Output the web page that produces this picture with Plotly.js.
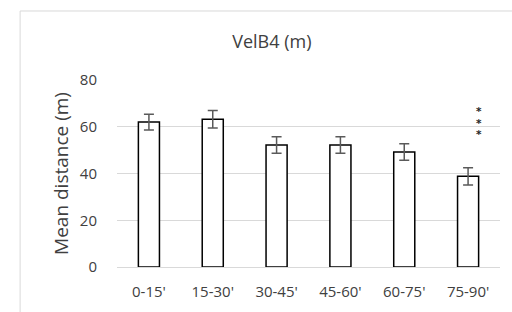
<!DOCTYPE html>
<html><head><meta charset="utf-8">
<script src="https://cdn.plot.ly/plotly-3.0.1.min.js"></script>
<style>html,body{margin:0;padding:0;background:#fff;}#chart{width:512px;height:312px;}</style>
</head><body><div id="chart"></div>
<script>
const categories = ["0-15'", "15-30'", "30-45'", "45-60'", "60-75'", "75-90'"];
const meanDistance = [62, 63.2, 52.2, 52.2, 49.2, 38.8];
const errorSE = [3.4, 3.7, 3.5, 3.5, 3.5, 3.7];
const yTicks = [0, 20, 40, 60, 80];
const sigMark = '<span style="font-size:10.5px"><b>*</b></span>';
const sigLabel = [sigMark, sigMark, sigMark].join('<br>');
const sigCategory = "75-90'";
const sigY = 62;

const txt = '#404040';
const trace = {
  type: 'bar', x: categories, y: meanDistance,
  marker: {color: '#ffffff', line: {color: '#000000', width: 1.5}},
  error_y: {type: 'data', array: errorSE, visible: true, color: '#5a5a5a', thickness: 1.5, width: 5},
  hoverinfo: 'none'
};
const layout = {
  width: 512, height: 312,
  margin: {l: 117, r: 12, t: 80, b: 45},
  paper_bgcolor: '#fff', plot_bgcolor: '#fff',
  font: {family: 'Open Sans, Liberation Sans, sans-serif', color: txt, size: 15},
  showlegend: false,
  bargap: 0.67,
  title: {text: 'VelB4 (m)', xref: 'container', x: 0.531, xanchor: 'center', yref: 'container', y: 1 - 42/312, yanchor: 'middle', font: {size: 18, color: '#404040'}},
  xaxis: {type: 'category', showgrid: false, showline: false, zeroline: false, ticks: '', ticklabelstandoff: 14, tickfont: {size: 15, color: txt}, fixedrange: true},
  yaxis: {range: [0, 80], tickvals: yTicks, showgrid: true, gridcolor: '#d9d9d9', gridwidth: 1, zeroline: true, zerolinecolor: '#d9d9d9', zerolinewidth: 1, showline: false, ticks: '', ticklabelstandoff: 19, tickfont: {size: 15, color: txt},
    title: {text: 'Mean distance (m)', standoff: 6, font: {size: 19, color: txt}}},
  annotations: [{x: sigCategory, y: sigY, xref: 'x', yref: 'y', text: sigLabel, showarrow: false, xshift: 11, font: {size: 9, color: '#262626', family: 'DejaVu Sans, sans-serif'}, align: 'center'}],
  shapes: [{type: 'rect', xref: 'paper', yref: 'paper', x0: -0.253, x1: 1.2, y0: -0.5, y1: 1.369, line: {color: '#d9d9d9', width: 1}, fillcolor: 'rgba(0,0,0,0)', layer: 'below'}]
};
Plotly.newPlot('chart', [trace], layout, {staticPlot: true, displayModeBar: false});
</script></body></html>
